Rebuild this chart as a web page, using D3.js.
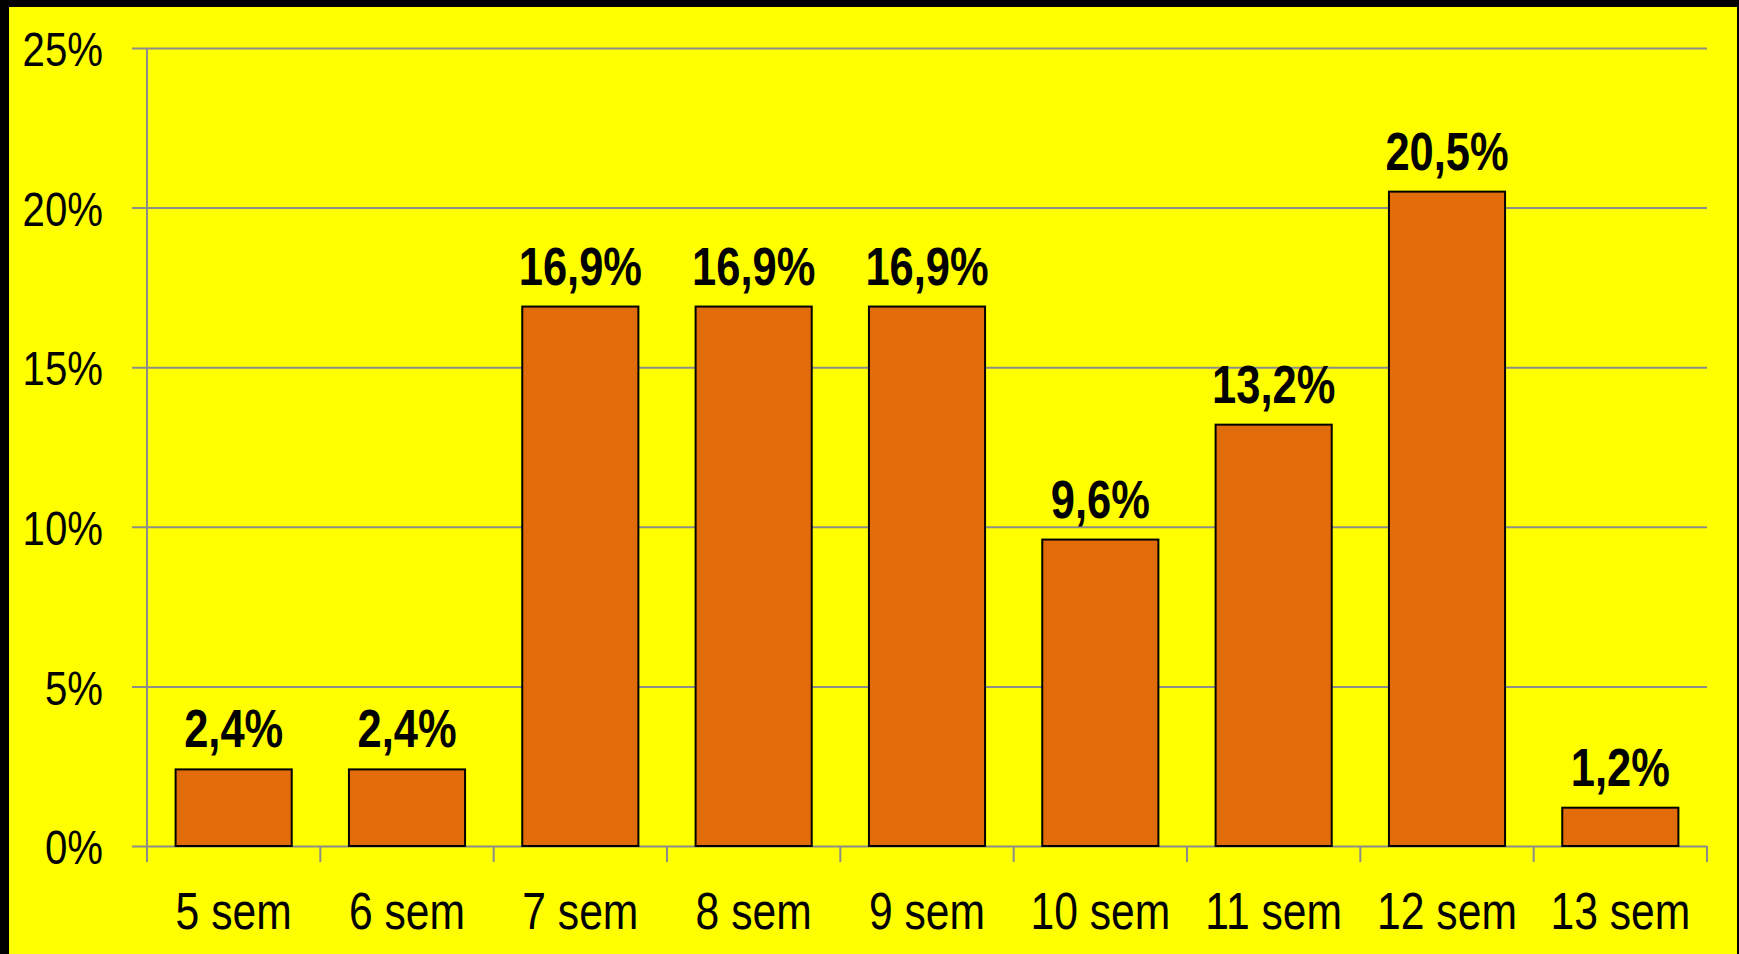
<!DOCTYPE html>
<html>
<head>
	<meta charset='utf-8'>
	<script src="https://cdnjs.cloudflare.com/ajax/libs/d3/7.8.5/d3.min.js"></script>
	<style>
	body { margin:0; background:#000; }
	text { font-family:'Liberation Sans', Arial, sans-serif; }
	</style>
</head>
<body>
	<script>

	var categories = ['5 sem', '6 sem', '7 sem', '8 sem', '9 sem', '10 sem', '11 sem', '12 sem', '13 sem'];
	var values = [2.4, 2.4, 16.9, 16.9, 16.9, 9.6, 13.2, 20.5, 1.2];
	var yTicks = [0, 5, 10, 15, 20, 25];

	var canvasWidth = 1739,
		canvasHeight = 954;

	var margin = {top: 48, right: 32, bottom: 108, left: 147};
	var chartWidth = canvasWidth - margin.left - margin.right,
		chartHeight = canvasHeight - margin.top - margin.bottom;

	var narrow = 0.82; // no Arial Narrow installed, squeeze Liberation Sans instead
	var gridColor = '#8c8c8c';

	var svg = d3.select('body').append('svg')
		.attr('width', canvasWidth).attr('height', canvasHeight);

	// black frame + yellow field
	svg.append('rect').attr('width', canvasWidth).attr('height', canvasHeight).attr('fill', '#000');
	svg.append('rect').attr('x', 9).attr('y', 7).attr('width', canvasWidth - 11).attr('height', canvasHeight - 7).attr('fill', '#ffff00');

	var chart = svg.append('g').attr('transform', 'translate(' + margin.left + ',' + margin.top + ')');

	var x = d3.scaleBand().domain(categories).range([0, chartWidth]).paddingInner(0.33).paddingOuter(0.165);
	var xTicks = d3.scaleBand().domain(categories).range([0, chartWidth]);
	var y = d3.scaleLinear().domain([0, 25]).range([chartHeight, 0]);

	// gridlines + y axis
	var yAxis = chart.append('g').call(d3.axisLeft(y).tickValues(yTicks).tickSize(-chartWidth).tickSizeOuter(0)
		.tickFormat(function (d) { return d + '%'; }));
	yAxis.select('.domain').remove();
	yAxis.selectAll('.tick line').attr('stroke', gridColor).attr('stroke-width', 2).attr('x1', -15);
	yAxis.selectAll('.tick text')
		.attr('x', 0).attr('dy', '0.36em')
		.attr('transform', 'translate(-44,0) scale(' + narrow + ',1)')
		.attr('font-size', 49).attr('fill', '#000')
		.attr('font-family', "'Liberation Sans', Arial, sans-serif");

	chart.append('line').attr('x1', 0).attr('x2', 0).attr('y1', 0).attr('y2', chartHeight + 16)
		.attr('stroke', gridColor).attr('stroke-width', 2);

	// x axis category ticks
	var xAxisG = chart.append('g').attr('transform', 'translate(0,' + chartHeight + ')');
	xAxisG.selectAll('line.sep').data(categories).enter().append('line')
		.attr('x1', function (d) { return xTicks(d) + xTicks.bandwidth(); })
		.attr('x2', function (d) { return xTicks(d) + xTicks.bandwidth(); })
		.attr('y1', 0).attr('y2', 16)
		.attr('stroke', gridColor).attr('stroke-width', 2);
	xAxisG.selectAll('text').data(categories).enter().append('text')
		.attr('transform', function (d) { return 'translate(' + (x(d) + x.bandwidth() / 2) + ',83) scale(' + narrow + ',1)'; })
		.attr('text-anchor', 'middle')
		.attr('font-size', 52)
		.text(function (d) { return d; });

	// bars
	chart.selectAll('rect.bar').data(values).enter().append('rect')
		.attr('class', 'bar')
		.attr('x', function (d, i) { return x(categories[i]); })
		.attr('y', function (d) { return y(d); })
		.attr('width', x.bandwidth())
		.attr('height', function (d) { return chartHeight - y(d); })
		.attr('fill', '#e36c0a')
		.attr('stroke', '#000')
		.attr('stroke-width', 2);

	// value labels
	chart.selectAll('text.val').data(values).enter().append('text')
		.attr('class', 'val')
		.attr('transform', function (d, i) {
			return 'translate(' + (x(categories[i]) + x.bandwidth() / 2) + ',' + (y(d) - 22) + ') scale(' + narrow + ',1)';
		})
		.attr('text-anchor', 'middle')
		.attr('font-size', 53)
		.attr('font-weight', 'bold')
		.text(function (d) { return String(d).replace('.', ',') + '%'; });

	</script>
</body>
</html>
